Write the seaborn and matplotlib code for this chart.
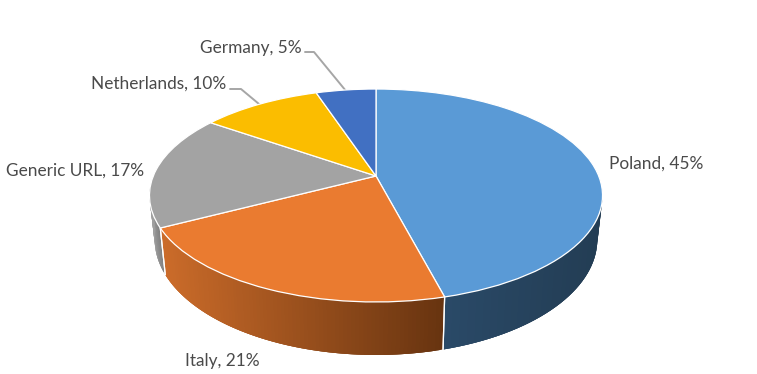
import numpy as np
import matplotlib
matplotlib.use("Agg")
import matplotlib.pyplot as plt
from matplotlib.transforms import Transform
import seaborn as sns

# Data
countries = ["Poland", "Italy", "Generic URL", "Netherlands", "Germany"]
shares = [45, 21, 17, 10, 5]
top_hex = ["#5A9AD6", "#EA7B30", "#A3A3A3", "#FBBD00", "#4170C2"]
# wall shading, left end then right end of each slice
wall_left = ["#2A4A68", "#CC6C2A", "#A0A0A0", "#9A7400", "#2A4577"]
wall_right = ["#233D54", "#683410", "#808080", "#7A5C00", "#223860"]
label_x = [609, 185, 6, 91, 200]
label_y = [164, 361, 171, 84, 48]

# Perspective of the tilted disc, in image pixels
APEX_X, APEX_Y = 376.0, 176.0
A, B, K = 222.7, 102.9, 0.183


def project(x, y):
    w = 1 + K * y
    return APEX_X + A * x / w, APEX_Y - B * y / w


def drop(px, py):
    # bottom rim of the disc sits a bit lower and narrower than the top rim
    return APEX_X + (px - APEX_X) * 0.977, py + 53 - 0.085 * (302 - py)


class Tilt(Transform):
    input_dims = output_dims = 2

    def transform_non_affine(self, values):
        values = np.asarray(values, dtype=float)
        px, py = project(values[:, 0], values[:, 1])
        return np.column_stack([px, py])


sns.set_theme(style="white")
plt.rcParams["font.family"] = ["Lato", "DejaVu Sans"]
colors = sns.color_palette(top_hex)

fig = plt.figure(figsize=(7.57, 3.74), dpi=100)
ax = fig.add_axes([0, 0, 1, 1])

wedges, _ = ax.pie(shares, colors=colors, startangle=90, counterclock=False,
                   wedgeprops=dict(edgecolor="white", linewidth=0.9))
ax.set_aspect("auto")
ax.set_xlim(0, 757)
ax.set_ylim(374, 0)
ax.axis("off")

tilt = Tilt()
for w in wedges:
    w.set_transform(tilt + ax.transData)
    w.set_zorder(3)

# Side walls, drawn as overlapping strips for the shading
for w, cl, cr in zip(wedges, wall_left, wall_right):
    t = np.radians(np.linspace(w.theta2, w.theta1, 90))
    tx, ty = project(np.cos(t), np.sin(t))
    bx, by = drop(tx, ty)
    front = ty > 190
    if not front.any():
        continue
    x0, x1 = tx[front].min(), tx[front].max()
    c0, c1 = np.array(matplotlib.colors.to_rgb(cl)), np.array(matplotlib.colors.to_rgb(cr))
    idx = np.flatnonzero(front)
    for i in idx:
        k = min(i + 3, len(t) - 1)
        if k <= i:
            continue
        f = np.clip((tx[i] - x0) / max(x1 - x0, 1), 0, 1)
        col = c0 + (c1 - c0) * f
        ax.fill(np.r_[tx[i:k + 1], bx[i:k + 1][::-1]], np.r_[ty[i:k + 1], by[i:k + 1][::-1]],
                color=col, lw=0, zorder=1)
    # white seam where two slices meet on the wall
    for j in (0, -1):
        if front[j]:
            ax.plot([tx[j], bx[j]], [ty[j], by[j]], color="white", lw=0.9, zorder=2)

# Labels
for name, share, lx, ly in zip(countries, shares, label_x, label_y):
    ax.text(lx, ly, f"{name}, {share}%", fontsize=12.4, color="#4A4A4A",
            ha="left", va="center", zorder=5)

# Leader lines
ax.plot([305, 314, 346], [52, 52, 91], color="#A6A6A6", lw=1.4, zorder=2.5)
ax.plot([230, 241, 259], [89, 89, 104], color="#A6A6A6", lw=1.4, zorder=2.5)

fig.savefig("out.png", dpi=100)
